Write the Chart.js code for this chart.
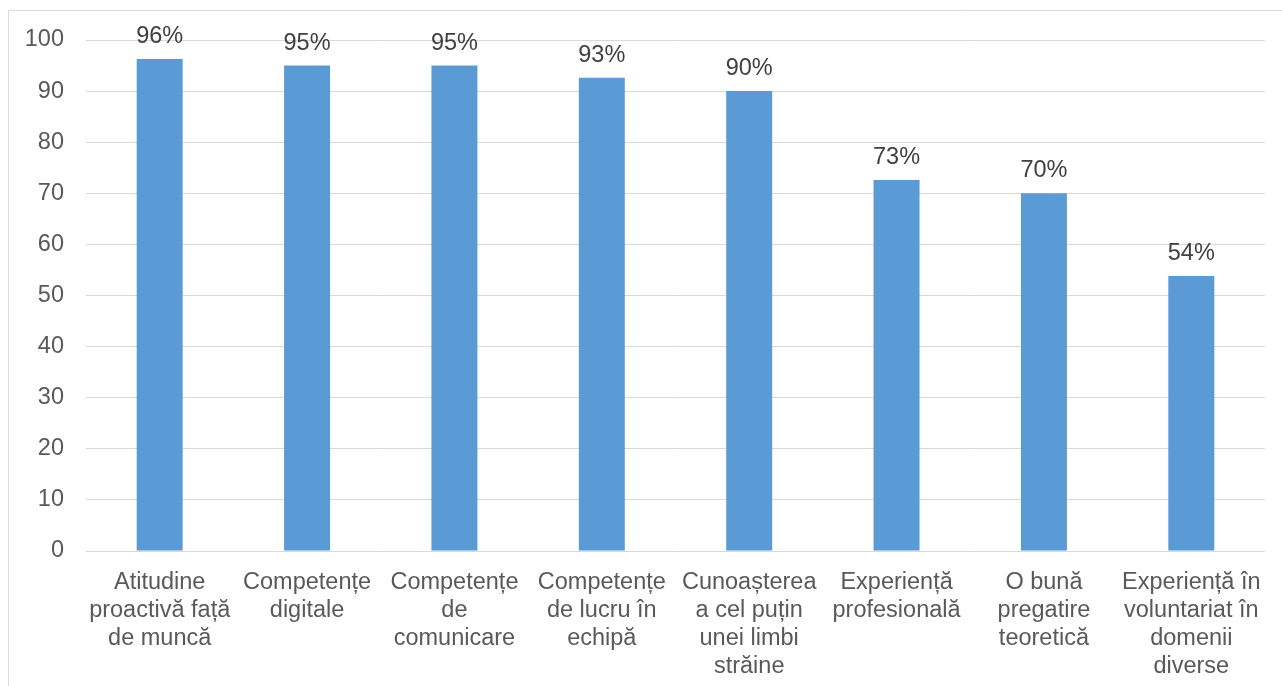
<!DOCTYPE html>
<html>
<head>
<meta charset="utf-8">
<script src="https://cdn.jsdelivr.net/npm/chart.js@4.4.0/dist/chart.umd.min.js"></script>
<style>
html,body{margin:0;padding:0;background:#fff;}
#wrap{width:1282px;height:686px;position:relative;}
</style>
</head>
<body>
<div id="wrap"><canvas id="c"></canvas></div>
<script>
const categories = [
  ["Atitudine", "proactivă față", "de muncă"],
  ["Competențe", "digitale"],
  ["Competențe", "de", "comunicare"],
  ["Competențe", "de lucru în", "echipă"],
  ["Cunoașterea", "a cel puțin", "unei limbi", "străine"],
  ["Experiență", "profesională"],
  ["O bună", "pregatire", "teoretică"],
  ["Experiență în", "voluntariat în", "domenii", "diverse"]
];
const values = [96.3, 95.0, 95.0, 92.6, 90.0, 72.6, 70.0, 53.8];
const valueLabels = ["96%", "95%", "95%", "93%", "90%", "73%", "70%", "54%"];
const yTicks = [0, 10, 20, 30, 40, 50, 60, 70, 80, 90, 100];

const FONT = "'Liberation Sans', Arial, sans-serif";

const frame = {
  id: 'frame',
  beforeDraw(chart) {
    const ctx = chart.ctx;
    ctx.save();
    ctx.fillStyle = '#fff';
    ctx.fillRect(0, 0, chart.width, chart.height);
    ctx.strokeStyle = '#D9D9D9';
    ctx.lineWidth = 1;
    ctx.beginPath();
    ctx.moveTo(8.5, chart.height);
    ctx.lineTo(8.5, 10.5);
    ctx.lineTo(chart.width, 10.5);
    ctx.stroke();
    ctx.restore();
  }
};

const dataLabels = {
  id: 'dataLabels',
  afterDatasetsDraw(chart) {
    const ctx = chart.ctx;
    const meta = chart.getDatasetMeta(0);
    ctx.save();
    ctx.font = '23.5px ' + FONT;
    ctx.fillStyle = '#404040';
    ctx.textAlign = 'center';
    ctx.textBaseline = 'alphabetic';
    meta.data.forEach((bar, i) => {
      ctx.fillText(valueLabels[i], bar.x, bar.y - 16);
    });
    ctx.restore();
  }
};

new Chart(document.getElementById('c'), {
  type: 'bar',
  data: {
    labels: categories,
    datasets: [{
      data: values,
      backgroundColor: '#5B9BD5',
      borderWidth: 0,
      barPercentage: 0.312,
      categoryPercentage: 1.0
    }]
  },
  options: {
    responsive: true,
    maintainAspectRatio: false,
    animation: false,
    layout: { padding: { top: 40, right: 17, bottom: 0, left: 0 } },
    plugins: { legend: { display: false }, tooltip: { enabled: false } },
    scales: {
      x: {
        grid: { display: false, drawTicks: false },
        border: { display: false },
        ticks: {
          color: '#595959',
          font: { family: FONT, size: 23.5, lineHeight: 1.2 },
          padding: 17,
          maxRotation: 0,
          autoSkip: false
        },
        afterFit(scale) { scale.height = 135; }
      },
      y: {
        min: 0,
        max: 100,
        afterBuildTicks(scale) { scale.ticks = yTicks.map(v => ({ value: v })); },
        grid: { color: '#D9D9D9', lineWidth: 1, drawTicks: false },
        border: { display: false },
        ticks: {
          color: '#595959',
          font: { family: FONT, size: 23.5 },
          padding: 22
        },
        afterFit(scale) { scale.width = 86; }
      }
    }
  },
  plugins: [frame, dataLabels]
});
</script>
</body>
</html>
